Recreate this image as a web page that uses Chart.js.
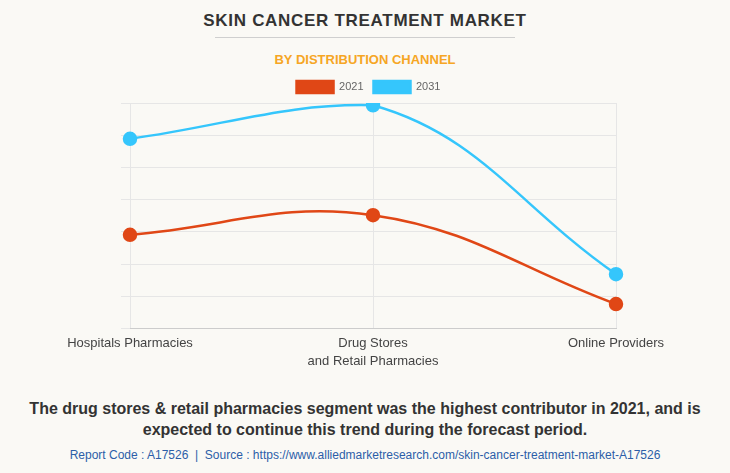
<!DOCTYPE html>
<html>
<head>
<meta charset="utf-8">
<script src="https://cdn.jsdelivr.net/npm/chart.js@4"></script>
<style>
  body { margin: 0; background: #faf9f5; font-family: "Liberation Sans", Arial, sans-serif; }
  #pagina { position: relative; width: 730px; height: 473px; overflow: hidden; }
  #titulo { position: absolute; top: 11px; left: 0; width: 730px; text-align: center;
            font-weight: bold; font-size: 17px; letter-spacing: 0.7px; color: #333; }
  #linha { position: absolute; top: 37px; left: 215px; width: 300px; height: 1px; background: #cfcfcf; }
  #subtitulo { position: absolute; top: 52px; left: 0; width: 730px; text-align: center;
               font-weight: bold; font-size: 13px; color: #f6a624; }
  #grafico-box { position: absolute; top: 71px; left: 0; width: 730px; height: 306px; }
  #conclusao { position: absolute; top: 398px; left: 0; width: 730px; text-align: center;
               font-weight: bold; font-size: 16px; line-height: 21px; color: #333; }
  #fonte { position: absolute; top: 448px; left: 0; width: 730px; text-align: center;
           font-size: 12px; color: #2c5ea8; }
</style>
</head>
<body>
<div id="pagina">
  <div id="titulo">SKIN CANCER TREATMENT MARKET</div>
  <div id="linha"></div>
  <div id="subtitulo">BY DISTRIBUTION CHANNEL</div>
  <div id="grafico-box"><canvas id="grafico"></canvas></div>
  <div id="conclusao">The drug stores &amp; retail pharmacies segment was the highest contributor in 2021, and is<br>expected to continue this trend during the forecast period.</div>
  <div id="fonte">Report Code : A17526&nbsp; | &nbsp;Source : https://www.alliedmarketresearch.com/skin-cancer-treatment-market-A17526</div>
</div>
<script>
let canais = ["Hospitals Pharmacies", ["Drug Stores", "and Retail Pharmacies"], "Online Providers"];
let anos = ["2021", "2031"];
let valores2021 = [2.91, 3.52, 0.76];
let valores2031 = [5.89, 6.93, 1.69];

let cores = ["#e04716", "#35c6fc"];

// GRÁFICO
let ctx = document.getElementById("grafico").getContext("2d");

let grafico = new Chart(ctx, {
  type: "line",
  data: {
    labels: canais,
    datasets: [
      {
        label: anos[0],
        data: valores2021,
        borderColor: cores[0],
        backgroundColor: cores[0],
        borderWidth: 2.5,
        pointRadius: 6,
        pointHoverRadius: 6,
        tension: 0.4
      },
      {
        label: anos[1],
        data: valores2031,
        borderColor: cores[1],
        backgroundColor: cores[1],
        borderWidth: 2.5,
        pointRadius: 6,
        pointHoverRadius: 6,
        tension: 0.4
      }
    ]
  },
  options: {
    responsive: true,
    maintainAspectRatio: false,
    animation: false,
    layout: { padding: { left: 121, right: 114, top: 0, bottom: 0 } },
    plugins: {
      legend: {
        labels: {
          boxWidth: 37,
          boxHeight: 12,
          color: "#666",
          font: { family: "Liberation Sans", size: 11 }
        }
      },
      tooltip: { enabled: false }
    },
    scales: {
      x: {
        grid: { color: "#e6e6e6", drawTicks: false },
        border: { color: "#cccccc" },
        ticks: {
          color: "#444",
          padding: 6,
          font: { family: "Liberation Sans", size: 13, lineHeight: 1.4 }
        }
      },
      y: {
        min: 0,
        max: 7,
        grid: { color: "#e6e6e6", tickLength: 9 },
        border: { display: false },
        ticks: { display: false, stepSize: 1 }
      }
    }
  }
});
</script>
</body>
</html>
